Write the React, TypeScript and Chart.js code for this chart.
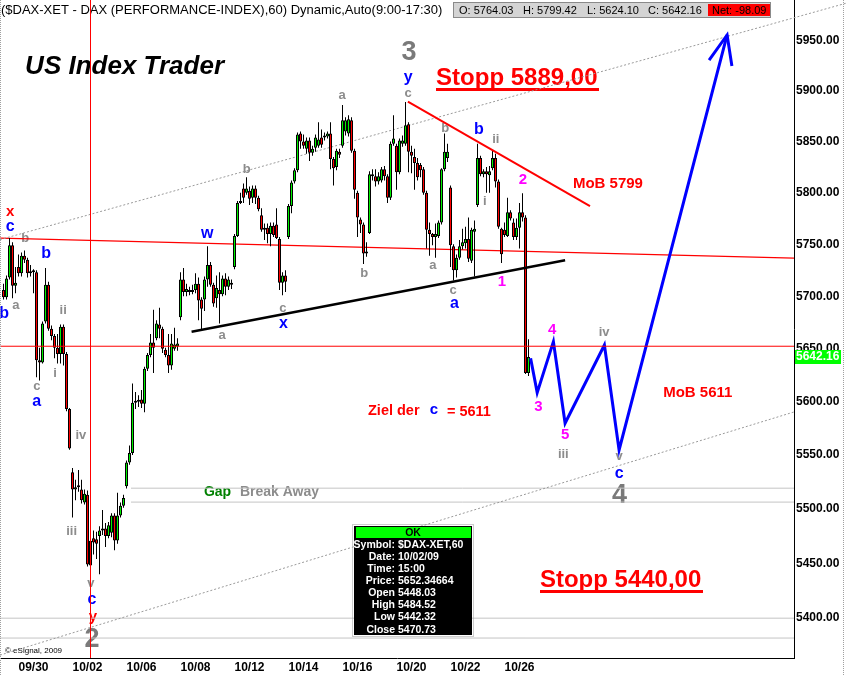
import React, { useEffect, useRef } from 'react';
import { Chart, registerables } from 'chart.js';

Chart.register(...registerables);

const FAM = "'Liberation Sans', Arial, Helvetica, sans-serif";

// ---------- hourly DAX candles (index 0 = 09/29 13:00 ... 175 = 10/26 17:00) ----------
const opens = [
  5706, 5699, 5718, 5749, 5710, 5728, 5722, 5739, 5735, 5722,
  5724, 5723, 5639, 5637, 5676, 5711, 5669, 5662, 5651, 5645,
  5671, 5645, 5593, 5534, 5518, 5520, 5518, 5506, 5513, 5448.03,
  5473, 5472, 5475, 5480, 5482, 5475, 5478, 5494, 5471, 5494,
  5503, 5521, 5543, 5552, 5599, 5600, 5602, 5598, 5631, 5644,
  5656, 5660, 5673, 5669, 5649, 5644, 5634, 5650, 5652, 5680,
  5716, 5704, 5706, 5704, 5706, 5712, 5697, 5697, 5716, 5730,
  5711, 5698, 5706, 5702, 5717, 5709, 5711, 5728, 5758, 5790,
  5804, 5800, 5802, 5795, 5804, 5795, 5778, 5764, 5766, 5760,
  5768, 5769, 5755, 5713, 5720, 5757, 5787, 5811, 5822, 5858,
  5850, 5843, 5851, 5839, 5844, 5846, 5854, 5854, 5855, 5858,
  5833, 5825, 5840, 5846, 5860, 5858, 5871, 5841, 5800, 5774,
  5769, 5741, 5761, 5816, 5816, 5811, 5812, 5823, 5816, 5795,
  5848, 5846, 5820, 5848, 5848, 5867, 5840, 5835, 5829, 5827,
  5823, 5800, 5764, 5760, 5757, 5758, 5771, 5823, 5834, 5805,
  5748, 5725, 5737, 5748, 5751, 5755, 5734, 5762, 5788, 5834,
  5818, 5821, 5817, 5824, 5834, 5811, 5765, 5764.03, 5758, 5781,
  5771, 5757, 5766, 5781, 5776, 5627,
];
const highs = [
  5712, 5720, 5756, 5752, 5728, 5740, 5742, 5744, 5737, 5730,
  5726, 5725, 5651, 5676, 5727, 5714, 5672, 5664, 5664, 5673,
  5673, 5647, 5594, 5538, 5527, 5536, 5527, 5518, 5517, 5484.52,
  5480, 5479, 5484, 5499, 5487, 5488, 5496, 5496, 5515, 5506,
  5513, 5545, 5559, 5617, 5609, 5606, 5611, 5633, 5646, 5664,
  5687, 5677, 5689, 5671, 5651, 5664, 5664, 5670, 5660, 5723,
  5727, 5712, 5709, 5711, 5722, 5718, 5699, 5719, 5748, 5733,
  5713, 5720, 5723, 5720, 5722, 5719, 5716, 5760, 5792, 5800,
  5809, 5815, 5806, 5807, 5807, 5797, 5785, 5770, 5770, 5771,
  5771, 5785, 5757, 5723, 5725, 5789, 5812, 5824, 5859, 5860,
  5857, 5854, 5854, 5846, 5857, 5869, 5862, 5859, 5860, 5869,
  5835, 5843, 5843, 5886, 5874, 5876, 5874, 5843, 5802, 5776,
  5771, 5752, 5821, 5823, 5823, 5820, 5825, 5826, 5818, 5850,
  5876, 5848, 5853, 5856, 5889, 5869, 5846, 5843, 5834, 5829,
  5825, 5802, 5771, 5761, 5770, 5773, 5824, 5858, 5848, 5807,
  5750, 5740, 5754, 5765, 5767, 5776, 5766, 5773, 5848, 5836,
  5823, 5825, 5826, 5841, 5838, 5813, 5766, 5771, 5795, 5783,
  5775, 5775, 5790, 5799.42, 5778, 5659,
];
const lows = [
  5697, 5697, 5716, 5698, 5703, 5719, 5719, 5732, 5718, 5719,
  5703, 5623, 5620, 5636, 5674, 5667, 5658, 5641, 5636, 5636,
  5634, 5591, 5555, 5492, 5508, 5516, 5505, 5504, 5447, 5442.32,
  5458, 5454, 5440, 5476, 5465, 5473, 5474, 5462, 5468, 5492,
  5501, 5519, 5541, 5550, 5593, 5595, 5594, 5590, 5629, 5642,
  5627, 5658, 5660, 5646, 5642, 5627, 5630, 5648, 5648, 5677,
  5700, 5700, 5701, 5702, 5703, 5677, 5667, 5686, 5709, 5709,
  5690, 5689, 5674, 5700, 5701, 5706, 5707, 5726, 5757, 5789,
  5790, 5798, 5788, 5790, 5789, 5782, 5762, 5754, 5751, 5748,
  5757, 5755, 5706, 5701, 5704, 5755, 5780, 5809, 5820, 5843,
  5843, 5838, 5831, 5836, 5840, 5844, 5844, 5851, 5853, 5823,
  5807, 5822, 5834, 5844, 5856, 5855, 5839, 5794, 5757, 5761,
  5731, 5738, 5760, 5812, 5806, 5808, 5810, 5812, 5790, 5793,
  5846, 5803, 5818, 5845, 5846, 5820, 5819, 5803, 5812, 5815,
  5798, 5746, 5739, 5749, 5737, 5756, 5769, 5821, 5830, 5728,
  5715, 5718, 5735, 5745, 5746, 5733, 5732, 5719, 5786, 5816,
  5815, 5800, 5800, 5822, 5805, 5765, 5732, 5757, 5757, 5773,
  5754, 5754, 5746, 5772, 5626, 5624.10,
];
const closes = [
  5699, 5717, 5749, 5710, 5713, 5722, 5739, 5735, 5722, 5724,
  5723, 5639, 5637, 5674, 5711, 5669, 5662, 5651, 5645, 5671,
  5645, 5593, 5556, 5518, 5520, 5521, 5508, 5514, 5449, 5470.73,
  5469, 5468, 5480, 5482, 5475, 5485, 5494, 5471, 5494, 5503,
  5510, 5543, 5552, 5599, 5600, 5601, 5598, 5631, 5644, 5656,
  5651, 5674, 5669, 5650, 5644, 5634, 5655, 5654, 5655, 5716,
  5704, 5707, 5704, 5706, 5712, 5696, 5688, 5716, 5730, 5711,
  5693, 5708, 5702, 5717, 5709, 5716, 5713, 5758, 5790, 5792,
  5795, 5804, 5794, 5804, 5795, 5784, 5764, 5766, 5760, 5768,
  5759, 5756, 5713, 5720, 5714, 5787, 5810, 5822, 5857, 5850,
  5846, 5851, 5839, 5843, 5854, 5852, 5847, 5856, 5858, 5833,
  5824, 5841, 5837, 5871, 5871, 5872, 5841, 5803, 5776, 5769,
  5741, 5743, 5818, 5818, 5811, 5816, 5823, 5816, 5795, 5848,
  5853, 5820, 5851, 5851, 5866, 5840, 5836, 5829, 5815, 5822,
  5800, 5764, 5760, 5757, 5760, 5771, 5823, 5840, 5840, 5749,
  5725, 5737, 5748, 5752, 5755, 5736, 5764, 5765, 5834, 5818,
  5821, 5818, 5821, 5834, 5811, 5767, 5740.25, 5759, 5781, 5775,
  5757, 5766, 5781, 5776, 5627, 5642.16,
];

// ---------- axes ----------
const dayLabels = ['09/30', '10/02', '10/06', '10/08', '10/12', '10/14', '10/16', '10/20', '10/22', '10/26'];
const dayStartIndex = [5, 23, 41, 59, 77, 95, 113, 131, 149, 167];
const priceTicks = [5400, 5450, 5500, 5550, 5600, 5650, 5700, 5750, 5800, 5850, 5900, 5950];
const X_MIN = -7 / 6;
const X_MAX = 263.5;
const Y_MIN = 5364.0;
const Y_MAX = 5990.8;

// ---------- cursor (crosshair + data window) ----------
const cursorIndex = 29;
const cursorPrice = 5652.34664;
const cursorDate = '10/02/09';
const cursorTime = '15:00';
const symbol = '$DAX-XET,60';

// ---------- drawn lines, in (bar index, price) ----------
const upperChannelIdx = [-7 / 6, 280.8];
const upperChannelPrice = [5754.5, 5987.5];
const lowerChannelIdx = [-7 / 6, 263.5];
const lowerChannelPrice = [5366.6, 5590.3];
const redLevelIdx = [-7 / 6, 263.5];
const redLevelPrice = [5756.0, 5736.7];
const supportIdx = [62.7, 187.2];
const supportPrice = [5666.1, 5734.5];
const resistIdx = [134.8, 195.5];
const resistPrice = [5889.3, 5786.9];
const gapLineIdx = [42.5, 263.5];
const gapLinePrices = [5519.2, 5506.3];
const floorLinePrices = [5400.0, 5382.0];
const projIdx = [175.7, 177.9, 183.3, 187.2, 200.3, 205.2, 241.2];
const projPrice = [5641.0, 5608.5, 5656.7, 5579.7, 5653.5, 5554.7, 5955.7];
const arrowIdx = [235.2, 241.2, 242.8];
const arrowPrice = [5930.7, 5955.7, 5924.8];

// ---------- wave labels (centered) ----------
const waveText = ['3', 'y', 'c', 'a', 'b', 'b', 'ii', 'b', '2', 'i', 'x', 'c', 'b', 'b', 'w', 'b', 'a', '1', 'c', 'a',
  'a', 'b', 'ii', 'c', 'x', 'a', '4', 'iv', 'i', 'c', 'a', '3', 'iv', '5', 'iii', 'v', 'c', '4', 'iii', 'v', 'c', 'y', '2', 'c'];
const waveIdx = [135.2, 134.9, 134.9, 112.9, 147.2, 158.5, 164.1, 81.1, 173.1, 160.4, 2.2, 2.2, 7.2, 14.2, 67.9, 120.2, 143.1, 166.1, 149.9, 150.3,
  4.1, 0.2, 19.9, 93.1, 93.3, 72.9, 182.9, 200.2, 17.2, 11.1, 11.1, 178.3, 25.8, 187.2, 186.6, 205.2, 205.2, 205.3, 22.7, 29.1, 29.5, 29.8, 29.5, 143.5];
const wavePrice = [5937.7, 5912.8, 5897.7, 5896.0, 5863.2, 5861.4, 5851.7, 5822.8, 5813.0, 5791.6, 5781.6, 5767.0, 5755.7, 5741.2, 5760.5, 5722.0, 5729.9, 5713.9, 5705.3, 5693.2,
  5691.6, 5683.6, 5686.8, 5688.4, 5674.1, 5662.9, 5668.4, 5665.2, 5626.6, 5614.0, 5599.8, 5595.3, 5568.6, 5569.3, 5551.0, 5548.5, 5533.0, 5512.8, 5478.9, 5431.7, 5416.5, 5401.0, 5380.2, 5592.0];
const waveKind = ['G', 'b', 'g', 'g', 'g', 'b', 'g', 'g', 'm', 'g', 'r', 'b', 'g', 'b', 'b', 'g', 'g', 'm', 'g', 'b',
  'g', 'b', 'g', 'g', 'b', 'g', 'm', 'g', 'g', 'g', 'b', 'm', 'g', 'm', 'g', 'g', 'b', 'G', 'g', 'g', 'b', 'r', 'G', 'bs'];

// ---------- text notes (left aligned) ----------
const noteText = ['US Index Trader', 'Stopp 5889,00', 'MoB 5799', 'MoB 5611', 'Ziel der', '= 5611', 'Gap', 'Break Away', 'Stopp 5440,00'];
const noteIdx = [7.2, 144.2, 189.8, 219.9, 121.5, 147.8, 66.8, 78.8, 178.8];
const notePrice = [5923.5, 5912.1, 5808.4, 5607.9, 5591.1, 5590.1, 5515.5, 5515.5, 5434.7];
const noteKind = ['title', 'stop', 'mob', 'mob', 'ziel', 'ziel', 'gap', 'break', 'stop'];

const waveStyle: Record<string, { font: string; color: string }> = {
  g: { font: `bold 13px ${FAM}`, color: '#8c8c8c' },
  b: { font: `bold 16px ${FAM}`, color: '#0000ff' },
  bs: { font: `bold 15px ${FAM}`, color: '#0000ff' },
  m: { font: `bold 15px ${FAM}`, color: '#ff00ff' },
  r: { font: `bold 15px ${FAM}`, color: '#ff0000' },
  G: { font: `bold 27px ${FAM}`, color: '#7a7a7a' },
};
const noteStyle: Record<string, { font: string; color: string; size: number; underline?: boolean }> = {
  title: { font: `italic bold 26px ${FAM}`, color: '#000000', size: 26 },
  stop: { font: `bold 24px ${FAM}`, color: '#ff0000', size: 24, underline: true },
  mob: { font: `bold 15px ${FAM}`, color: '#ff0000', size: 15 },
  ziel: { font: `bold 14.5px ${FAM}`, color: '#ff0000', size: 14.5 },
  gap: { font: `bold 14px ${FAM}`, color: '#008000', size: 14 },
  break: { font: `bold 14px ${FAM}`, color: '#8c8c8c', size: 14 },
};

const GREEN = '#00f000';
const RED = '#ff0000';

function lineDs(xs: number[], ys: number[], color: string, width: number, order: number, extra: any = {}) {
  return {
    type: 'line',
    data: xs.map((x, k) => ({ x, y: ys[k] })),
    borderColor: color,
    backgroundColor: color,
    borderWidth: width,
    pointRadius: 0,
    pointHoverRadius: 0,
    tension: 0,
    fill: false,
    order,
    ...extra,
  };
}

const overlayPlugin = {
  id: 'overlay',
  beforeDatasetsDraw(chart: any) {
    const { ctx, chartArea: ca, scales } = chart;
    const px = (i: number) => scales.x.getPixelForValue(i);
    const py = (p: number) => scales.y.getPixelForValue(p);
    ctx.save();
    ctx.textBaseline = 'middle';
    ctx.textAlign = 'center';
    for (let k = 0; k < waveText.length; k++) {
      const st = waveStyle[waveKind[k]];
      ctx.font = st.font;
      ctx.fillStyle = st.color;
      ctx.fillText(waveText[k], px(waveIdx[k]), py(wavePrice[k]));
    }
    ctx.textAlign = 'left';
    for (let k = 0; k < noteText.length; k++) {
      const st = noteStyle[noteKind[k]];
      ctx.font = st.font;
      ctx.fillStyle = st.color;
      const x0 = px(noteIdx[k]);
      const y0 = py(notePrice[k]);
      ctx.fillText(noteText[k], x0, y0);
      if (st.underline) {
        const w = ctx.measureText(noteText[k]).width;
        ctx.fillRect(Math.round(x0), Math.round(y0 + st.size * 0.36 + 1), Math.round(w + 2), 3);
      }
    }
    // header line
    const L = ca.left;
    const T = ca.top;
    ctx.font = `13px ${FAM}`;
    ctx.fillStyle = '#000';
    ctx.fillText('($DAX-XET - DAX (PERFORMANCE-INDEX),60) Dynamic,Auto(9:00-17:30)', L + 1, T + 10);
    const last = dayStartIndex[dayStartIndex.length - 1];
    const dO = opens[last];
    const dH = Math.max(...highs.slice(last));
    const dL = Math.min(...lows.slice(last));
    const dC = closes[closes.length - 1];
    const net = dC - closes[last - 1];
    ctx.fillStyle = '#d4d4d4';
    ctx.fillRect(L + 453, T + 3, 318, 14);
    ctx.strokeStyle = '#8a8a8a';
    ctx.lineWidth = 1;
    ctx.strokeRect(L + 453.5, T + 2.5, 317, 15);
    ctx.fillStyle = '#ff0000';
    ctx.fillRect(L + 708, T + 4, 62, 12);
    ctx.font = `11px ${FAM}`;
    ctx.fillStyle = '#000';
    ctx.fillText('O: ' + dO.toFixed(2), L + 459, T + 10.5);
    ctx.fillText('H: ' + dH.toFixed(2), L + 523, T + 10.5);
    ctx.fillText('L: ' + dL.toFixed(2), L + 587, T + 10.5);
    ctx.fillText('C: ' + dC.toFixed(2), L + 648, T + 10.5);
    ctx.fillText('Net: ' + net.toFixed(2), L + 712, T + 10.5);
    // copyright
    ctx.font = `8px ${FAM}`;
    ctx.fillText('\u00a9 eSignal, 2009', L + 5, ca.bottom - 7);
    ctx.restore();
  },
  afterDraw(chart: any) {
    const { ctx, chartArea: ca, scales, width, height } = chart;
    const py = (p: number) => scales.y.getPixelForValue(p);
    ctx.save();
    // dotted outer edges
    ctx.strokeStyle = '#a0a0a0';
    ctx.lineWidth = 1;
    ctx.setLineDash([1, 1]);
    ctx.beginPath();
    ctx.moveTo(0.5, 0);
    ctx.lineTo(0.5, height);
    ctx.moveTo(width - 2.5, 0);
    ctx.lineTo(width - 2.5, height);
    ctx.stroke();
    // last price tag on the axis
    const lc = closes[closes.length - 1];
    const yl = Math.round(py(lc));
    ctx.setLineDash([]);
    ctx.fillStyle = '#00ff00';
    ctx.fillRect(ca.right + 1, yl - 7, 46, 14);
    ctx.fillStyle = '#ffffff';
    ctx.font = `bold 12px ${FAM}`;
    ctx.textBaseline = 'middle';
    ctx.textAlign = 'left';
    ctx.fillText(lc.toFixed(2), ca.right + 2, yl);
    // data window box
    const bx = ca.left + 353;
    const by = ca.top + 525;
    ctx.setLineDash([1, 1]);
    ctx.strokeStyle = '#9a9a9a';
    ctx.strokeRect(bx - 0.5, by - 0.5, 121, 112);
    ctx.setLineDash([]);
    ctx.fillStyle = '#000';
    ctx.fillRect(bx + 1, by + 1, 118, 109);
    ctx.fillStyle = '#00ff00';
    ctx.fillRect(bx + 3, by + 2, 115, 11);
    ctx.fillStyle = '#000';
    ctx.font = `bold 10.5px ${FAM}`;
    ctx.textAlign = 'center';
    ctx.fillText('OK', bx + 60, by + 8);
    const rows: [string, string][] = [
      ['Symbol:', symbol],
      ['Date:', cursorDate],
      ['Time:', cursorTime],
      ['Price:', cursorPrice.toFixed(5)],
      ['Open', opens[cursorIndex].toFixed(2)],
      ['High', highs[cursorIndex].toFixed(2)],
      ['Low', lows[cursorIndex].toFixed(2)],
      ['Close', closes[cursorIndex].toFixed(2)],
    ];
    ctx.fillStyle = '#ffffff';
    rows.forEach((r, k) => {
      const yy = by + 20 + k * 12.1;
      ctx.textAlign = 'right';
      ctx.fillText(r[0], bx + 42, yy);
      ctx.textAlign = 'left';
      ctx.fillText(r[1], bx + 45, yy);
    });
    ctx.restore();
  },
};

export default function App() {
  const ref = useRef<HTMLCanvasElement>(null);
  useEffect(() => {
    const canvas = ref.current;
    if (!canvas) return;
    const idx = opens.map((_, i) => i);
    const wickData = idx.map((i) => ({ x: i, y: [lows[i], highs[i]] }));
    const bodyData = idx.map((i) => ({ x: i, y: [Math.min(opens[i], closes[i]), Math.max(opens[i], closes[i])] }));
    const bodyColors = idx.map((i) => (i === cursorIndex ? '#0000ff' : closes[i] >= opens[i] ? GREEN : RED));
    const wickColors = idx.map((i) => (i === cursorIndex ? '#00ffff' : '#000000'));

    const datasets: any[] = [
      lineDs(gapLineIdx, [gapLinePrices[0], gapLinePrices[0]], '#c4c4c4', 1, 20),
      lineDs(gapLineIdx, [gapLinePrices[1], gapLinePrices[1]], '#c4c4c4', 1, 20),
      lineDs([X_MIN, X_MAX], [floorLinePrices[0], floorLinePrices[0]], '#c4c4c4', 1, 20),
      lineDs([X_MIN, X_MAX], [floorLinePrices[1], floorLinePrices[1]], '#c4c4c4', 1, 20),
      lineDs(upperChannelIdx, upperChannelPrice, '#9a9a9a', 1, 19, { borderDash: [2, 2], clip: false }),
      lineDs(lowerChannelIdx, lowerChannelPrice, '#9a9a9a', 1, 19, { borderDash: [2, 2] }),
      lineDs(redLevelIdx, redLevelPrice, '#ff0000', 1.2, 19),
      {
        type: 'bar',
        data: wickData,
        backgroundColor: wickColors,
        borderWidth: 0,
        barThickness: 1,
        grouped: false,
        inflateAmount: 0,
        order: 11,
      },
      {
        type: 'bar',
        data: bodyData,
        backgroundColor: bodyColors,
        borderColor: '#000000',
        borderWidth: 1,
        borderSkipped: false,
        barThickness: 3,
        minBarLength: 2,
        grouped: false,
        inflateAmount: 0,
        order: 10,
      },
      lineDs(supportIdx, supportPrice, '#000000', 2.5, 4),
      lineDs(resistIdx, resistPrice, '#ff0000', 2, 4),
      lineDs(projIdx, projPrice, '#0000ff', 3, 3, { borderJoinStyle: 'miter' }),
      lineDs(arrowIdx, arrowPrice, '#0000ff', 3, 3),
      lineDs([X_MIN, X_MAX], [cursorPrice, cursorPrice], '#ff0000', 1, 1),
      lineDs([cursorIndex, cursorIndex], [Y_MAX, Y_MIN], '#ff0000', 1, 1),
    ];

    const chart = new Chart(canvas, {
      type: 'bar',
      data: { datasets },
      options: {
        animation: false,
        responsive: false,
        devicePixelRatio: 1,
        events: [],
        layout: { padding: 0 },
        plugins: {
          legend: { display: false },
          tooltip: { enabled: false },
          title: { display: false },
        },
        scales: {
          x: {
            type: 'linear',
            min: X_MIN,
            max: X_MAX,
            offset: false,
            position: 'bottom',
            grid: { display: false, drawTicks: false },
            border: { display: true, color: '#000000', width: 1 },
            ticks: {
              autoSkip: false,
              maxRotation: 0,
              align: 'start',
              padding: 2,
              color: '#000000',
              font: { family: FAM, size: 12, weight: 'bold' },
              callback: (v: any) => dayLabels[dayStartIndex.indexOf(Number(v))] ?? '',
            },
            afterBuildTicks: (s: any) => {
              s.ticks = dayStartIndex.map((v) => ({ value: v }));
            },
            afterFit: (s: any) => {
              s.height = 17;
              s.paddingLeft = 0;
              s.paddingRight = 0;
            },
          },
          y: {
            type: 'logarithmic',
            position: 'right',
            min: Y_MIN,
            max: Y_MAX,
            beginAtZero: false,
            grid: { display: false, drawTicks: false },
            border: { display: true, color: '#000000', width: 1 },
            ticks: {
              autoSkip: false,
              padding: 2,
              color: '#000000',
              font: { family: FAM, size: 12, weight: 'bold' },
              callback: (v: any) => Number(v).toFixed(2),
            },
            afterBuildTicks: (s: any) => {
              s.ticks = priceTicks.map((v) => ({ value: v }));
            },
            afterFit: (s: any) => {
              s.width = 52;
              s.paddingTop = 0;
              s.paddingBottom = 0;
            },
          },
        },
      } as any,
      plugins: [overlayPlugin],
    } as any);
    return () => chart.destroy();
  }, []);

  return (
    <div style={{ position: 'absolute', left: 0, top: 0, width: 846, height: 675, background: '#ffffff' }}>
      <canvas ref={ref} width={846} height={675} style={{ display: 'block', width: 846, height: 675 }} />
    </div>
  );
}
